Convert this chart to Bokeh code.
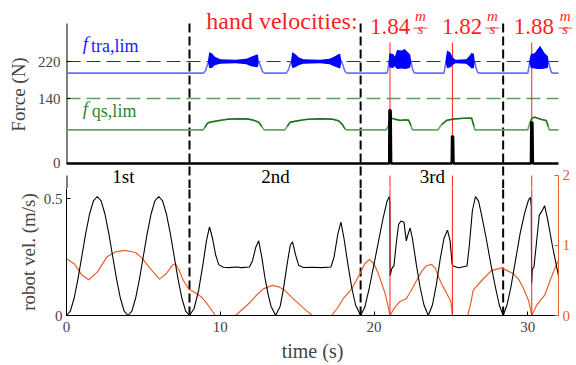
from bokeh.plotting import figure
from bokeh.models import Range1d, LinearAxis, FixedTicker, Label
from bokeh.core.properties import value
from bokeh.embed import file_html
from bokeh.resources import INLINE

FONT = "Liberation Serif"

# ---------------- data ----------------
# robot velocity (m/s): (time s, value)
robot_vel = [
    (0.0, 0.0), (0.25, 0.019), (0.5, 0.075), (0.75, 0.158), (1.0, 0.255), (1.25, 0.352), (1.5, 0.435),
    (1.75, 0.491), (2.0, 0.51), (2.25, 0.491), (2.5, 0.435), (2.75, 0.352), (3.0, 0.255), (3.25, 0.158),
    (3.5, 0.075), (3.75, 0.019), (4.0, 0.0), (4.25, 0.019), (4.5, 0.075), (4.75, 0.158), (5.0, 0.255),
    (5.25, 0.352), (5.5, 0.435), (5.75, 0.491), (6.0, 0.51), (6.25, 0.491), (6.5, 0.435), (6.75, 0.352),
    (7.0, 0.255), (7.25, 0.158), (7.5, 0.075), (7.75, 0.019), (8.0, 0.0),
    (8.3, 0.03), (8.6, 0.11), (8.9, 0.23), (9.1, 0.32), (9.3, 0.38), (9.5, 0.33), (9.7, 0.26), (9.9, 0.218),
    (10.2, 0.207), (10.6, 0.205), (11.0, 0.208), (11.4, 0.205), (11.9, 0.208), (12.1, 0.235), (12.3, 0.29),
    (12.5, 0.32), (12.7, 0.25), (12.9, 0.165), (13.1, 0.095), (13.3, 0.04), (13.6, 0.0),
    (13.9, 0.04), (14.1, 0.11), (14.35, 0.22), (14.55, 0.30), (14.7, 0.316), (14.9, 0.26), (15.1, 0.215),
    (15.4, 0.206), (16.0, 0.207), (16.6, 0.205), (17.2, 0.208), (17.4, 0.25), (17.65, 0.35), (17.85, 0.40),
    (18.05, 0.33), (18.3, 0.22), (18.55, 0.12), (18.8, 0.045), (19.13, 0.0),
    (19.4, 0.035), (19.7, 0.12), (20.0, 0.22), (20.3, 0.32), (20.6, 0.42), (20.85, 0.49), (21.0, 0.51),
    (21.03, 0.48), (21.05, 0.17), (21.15, 0.20), (21.3, 0.215), (21.45, 0.31), (21.6, 0.39), (21.75, 0.405),
    (21.95, 0.40), (22.1, 0.32), (22.2, 0.345), (22.35, 0.375), (22.5, 0.33), (22.75, 0.22), (23.0, 0.12),
    (23.25, 0.045), (23.53, 0.0),
    (23.8, 0.045), (24.05, 0.13), (24.3, 0.24), (24.55, 0.33), (24.78, 0.366), (24.95, 0.32), (25.08, 0.22),
    (25.15, 0.212), (25.5, 0.205), (26.05, 0.212), (26.2, 0.30), (26.4, 0.45), (26.6, 0.51), (26.8, 0.49),
    (27.0, 0.43), (27.3, 0.33), (27.6, 0.22), (27.9, 0.12), (28.15, 0.045), (28.4, 0.0),
    (28.65, 0.045), (28.9, 0.12), (29.2, 0.235), (29.5, 0.35), (29.8, 0.44), (30.05, 0.495), (30.17, 0.506),
    (30.23, 0.47), (30.25, 0.137), (30.3, 0.20), (30.4, 0.206), (30.55, 0.30), (30.75, 0.43), (30.9, 0.445),
    (31.1, 0.47), (31.3, 0.41), (31.6, 0.30), (32.0, 0.17),
]

# second (orange) quantity on the right axis: (time s, value)
right_val = [
    (0.0, 0.81), (0.5, 0.74), (1.0, 0.58), (1.45, 0.51), (2.0, 0.62), (2.64, 0.84), (3.2, 0.91), (3.8, 0.93),
    (4.5, 0.90), (4.91, 0.82), (5.45, 0.67), (6.05, 0.52), (6.5, 0.60), (6.85, 0.71), (7.08, 0.74), (7.3, 0.66),
    (7.6, 0.50), (7.94, 0.38), (8.4, 0.32), (8.8, 0.26), (9.2, 0.15), (9.68, 0.0), (11.0, 0.0), (11.5, 0.10),
    (11.95, 0.19), (12.4, 0.30), (12.8, 0.38), (13.4, 0.43), (13.8, 0.41), (14.2, 0.36), (14.6, 0.27),
    (15.1, 0.17), (15.6, 0.07), (16.0, 0.0), (17.25, 0.0), (17.6, 0.10), (18.0, 0.24), (18.55, 0.38),
    (19.1, 0.60), (19.4, 0.74), (19.7, 0.80), (20.0, 0.74), (20.28, 0.60), (20.7, 0.33), (20.9, 0.15),
    (21.04, 0.0), (21.36, 0.12), (21.7, 0.20), (22.1, 0.24), (22.4, 0.35), (22.77, 0.50), (23.1, 0.63),
    (23.4, 0.71), (23.75, 0.73), (24.0, 0.67), (24.2, 0.55), (24.45, 0.43), (24.7, 0.33), (25.0, 0.20),
    (25.1, 0.0), (26.1, 0.0), (26.3, 0.18), (26.45, 0.36), (27.0, 0.50), (27.64, 0.64), (28.3, 0.68),
    (29.05, 0.60), (29.4, 0.52), (29.7, 0.40), (30.06, 0.21), (30.26, 0.0), (30.56, 0.14), (31.1, 0.29),
    (31.54, 0.55), (31.93, 0.76), (32.0, 0.78),
]

# transient force limit signal (N)
f_tra = [
    (0.0, 195), (8.9, 195), (9.05, 200), (9.18, 215), (9.25, 220), (12.5, 220), (12.62, 210), (12.75, 198),
    (12.9, 195), (14.3, 195), (14.45, 203), (14.58, 218), (14.63, 220), (17.9, 220), (18.0, 210),
    (18.12, 198), (18.25, 195), (20.85, 195), (20.93, 208), (20.98, 220), (22.4, 220), (22.5, 205),
    (22.6, 196), (22.7, 195), (24.55, 195), (24.62, 208), (24.68, 220), (26.55, 220), (26.65, 205),
    (26.75, 196), (26.85, 195), (30.0, 195), (30.08, 208), (30.13, 220), (31.35, 220), (31.45, 205),
    (31.55, 196), (31.65, 195), (32.0, 195),
]
# oscillation envelopes of the transient signal: (time, low, high)
tra_bursts = [
    [(9.2, 219, 221), (9.28, 206, 240), (9.45, 206, 238), (9.65, 212, 230), (10.0, 215, 225), (11.0, 216, 224),
     (11.7, 214, 226), (12.0, 210, 230), (12.3, 208, 234), (12.45, 208, 235), (12.5, 219, 221)],
    [(14.6, 219, 221), (14.68, 206, 240), (14.85, 207, 237), (15.1, 212, 229), (15.4, 215, 225), (16.5, 216, 224),
     (17.1, 214, 226), (17.4, 210, 230), (17.7, 206, 236), (17.8, 205, 237), (17.88, 219, 221)],
    [(20.95, 218, 222), (21.0, 207, 238), (21.25, 206, 236), (21.35, 210, 230), (21.5, 204, 245), (21.8, 205, 244),
     (22.0, 204, 247), (22.2, 205, 240), (22.35, 207, 235), (22.42, 219, 221)],
    [(24.65, 218, 222), (24.75, 206, 244), (24.95, 207, 240), (25.15, 213, 228), (25.3, 216, 224), (26.0, 215, 225),
     (26.2, 210, 232), (26.35, 205, 239), (26.5, 206, 236), (26.55, 219, 221)],
    [(30.1, 218, 222), (30.2, 206, 236), (30.45, 205, 238), (30.6, 204, 245), (30.8, 204, 254), (30.95, 204, 246),
     (31.1, 205, 238), (31.3, 206, 232), (31.35, 219, 221)],
]

# quasi-static force signal (N)
f_qs = [
    (0.0, 72.5), (8.9, 72.5), (9.0, 78), (9.15, 86), (9.3, 89), (9.8, 92), (10.5, 95.5), (11.3, 96.5),
    (11.8, 96), (12.2, 93), (12.5, 89), (12.7, 80), (12.85, 73), (12.95, 72.5), (14.2, 72.5), (14.35, 80),
    (14.55, 89), (15.0, 92), (15.6, 95), (16.5, 96.5), (17.3, 95.5), (17.7, 92), (17.95, 84), (18.1, 75),
    (18.2, 72.5), (20.8, 72.5), (20.95, 82), (21.04, 98.5), (21.3, 96), (21.7, 93), (22.0, 94), (22.25, 93.5),
    (22.4, 82), (22.5, 73), (22.55, 72.5), (24.15, 72.5), (24.4, 84), (24.72, 93), (25.16, 96), (25.8, 97.5),
    (26.35, 98), (26.5, 80), (26.56, 72.5), (30.0, 72.5), (30.13, 87), (30.28, 98), (30.45, 100), (30.89, 95),
    (31.21, 92.5), (31.33, 80), (31.4, 72.5), (32.0, 72.5),
]

# measured contact force (N)
contact_force = [
    (0.0, 0), (20.99, 0), (21.01, 116), (21.08, 114), (21.11, 0), (25.06, 0), (25.08, 60), (25.14, 57),
    (25.17, 0), (30.21, 0), (30.23, 89), (30.3, 88), (30.33, 0), (32.0, 0),
]

limit_tra = 220
limit_qs = 140
phase_bounds = [8.0, 19.13, 28.4]
contact_times = [21.04, 25.1, 30.26]
hand_velocities = ["1.84", "1.82", "1.88"]
phase_names = ["1st", "2nd", "3rd"]
force_ticks = [0, 140, 220]
vel_ticks = [0, 0.5]
right_ticks = [0, 1]
right_top_tick = 2
time_ticks = [0, 10, 20, 30]

# ---------------- styling helpers ----------------
def style_axis(ax, size="15px"):
    ax.major_label_text_font = FONT
    ax.major_label_text_font_size = size
    ax.major_tick_in = 4
    ax.major_tick_out = 0
    ax.minor_tick_line_color = None
    ax.axis_label_text_font = FONT
    ax.axis_label_text_font_style = "normal"
    ax.axis_label_text_font_size = "19px"


def unzip(pts):
    return [p[0] for p in pts], [p[1] for p in pts]


RED = "#ff1f1f"
ORANGE = "#e8602a"
T_END = 32
T_VIEW = 33.17        # top canvas reaches the right edge (room for the last unit)
FORCE_TOP = 302       # where the force axis spine ends
FORCE_VIEW = 351.6    # visible force range above (room for the annotations)
# the top canvas also covers the gap and the head of the lower panel (force units)
GAP_LOW = -53.93      # bottom edge of the top canvas
VEL_PANEL_TOP = -25.88  # top edge of the lower panel, in force units
PHASE_TEXT_Y = -28.9  # anchor of the phase names
VEL_VIEW = 0.5443     # part of the lower panel drawn by the lower canvas
R_VIEW = 1.814

# ---------------- top canvas: forces ----------------
p1 = figure(width=576, height=188, x_range=Range1d(0, T_VIEW), y_range=Range1d(GAP_LOW, FORCE_VIEW),
            output_backend="svg", toolbar_location=None,
            min_border_left=66, min_border_right=0, min_border_top=0, min_border_bottom=0)
p1.outline_line_color = None
p1.xgrid.visible = False
p1.ygrid.visible = False
p1.xaxis.visible = False
style_axis(p1.yaxis[0])
p1.yaxis.ticker = FixedTicker(ticks=force_ticks)
p1.yaxis.axis_label = "Force (N)"
p1.yaxis.major_label_standoff = 6
p1.yaxis.axis_label_standoff = 6
p1.yaxis.axis_line_color = None
# left spines: force panel, and the head of the velocity panel
p1.segment(x0=[0, 0], y0=[0, VEL_PANEL_TOP], x1=[0, 0], y1=[FORCE_TOP, GAP_LOW], color="black", line_width=2)
# right (orange) spine head with its top tick and label
p1.segment(x0=[T_END], y0=[VEL_PANEL_TOP], x1=[T_END], y1=[GAP_LOW], color=ORANGE, line_width=1)
p1.segment(x0=[T_END - 0.27], y0=[VEL_PANEL_TOP], x1=[T_END], y1=[VEL_PANEL_TOP], color=ORANGE, line_width=1)
p1.add_layout(Label(x=T_END, y=VEL_PANEL_TOP, x_offset=4, text=str(right_top_tick), text_font=FONT,
                    text_font_size="15px", text_color=ORANGE, text_baseline="middle"))

# limit lines
p1.line([0, T_END], [limit_tra, limit_tra], color="#2020ff", line_width=1.2, line_dash="14 6")
p1.line([0, T_END], [limit_qs, limit_qs], color="#5c9e5c", line_width=1.5, line_dash="14 6")

# phase boundaries (run on through the gap)
p1.segment(x0=phase_bounds, y0=[GAP_LOW] * 3, x1=phase_bounds, y1=[308] * 3,
           color="black", line_width=2, line_dash="9 4")

# contact markers
p1.segment(x0=contact_times, y0=[0] * 3, x1=contact_times, y1=[261] * 3, color=RED, line_width=1)
p1.segment(x0=contact_times, y0=[GAP_LOW] * 3, x1=contact_times, y1=[VEL_PANEL_TOP] * 3, color=RED, line_width=1)

# transient signal
tx, ty = unzip(f_tra)
p1.line(tx, ty, color="#7070f5", line_width=1.6)
for b in tra_bursts:
    p1.varea(x=[q[0] for q in b], y1=[q[1] for q in b], y2=[q[2] for q in b], color="#0000ff")

# quasi static signal
qx, qy = unzip(f_qs)
p1.line(qx, qy, color="#63a663", line_width=1.6)
qy_raised = [v if v > 74 else float("nan") for v in qy]
p1.line(qx, qy_raised, color="#1a701a", line_width=1.3)

# contact force (also acts as the bottom spine of the force panel)
cx, cy = unzip(contact_force)
p1.line(cx, cy, color="black", line_width=2.6)

# labels
p1.add_layout(Label(x=1.05, y=237, text="f", text_font=FONT, text_font_style="italic",
                    text_font_size="19px", text_color="#1a1aff"))
p1.add_layout(Label(x=1.6, y=232, text="tra,lim", text_font=FONT,
                    text_font_size="18px", text_color="#1a1aff"))
p1.add_layout(Label(x=1.05, y=97, text="f", text_font=FONT, text_font_style="italic",
                    text_font_size="19px", text_color="#2e862e"))
p1.add_layout(Label(x=1.65, y=92, text="qs,lim", text_font=FONT,
                    text_font_size="18px", text_color="#2e862e"))

p1.add_layout(Label(x=9.09, y=279, text="hand velocities:", text_font=FONT,
                    text_font_size="24px", text_color=RED))
num_x = [19.74, 24.42, 29.09]
frac_x = [23.02, 27.7, 32.43]
for hv, nx, fx in zip(hand_velocities, num_x, frac_x):
    p1.add_layout(Label(x=nx, y=279, text=hv, text_font=FONT, text_font_size="23px", text_color=RED))
    p1.add_layout(Label(x=fx, y=300, text="m", text_font=FONT, text_font_style="italic",
                        text_font_size="15px", text_color=RED, text_align="center"))
    p1.add_layout(Label(x=fx, y=272, text="s", text_font=FONT, text_font_style="italic",
                        text_font_size="15px", text_color=RED, text_align="center"))
p1.segment(x0=[f - 0.45 for f in frac_x], y0=[292] * 3, x1=[f + 0.45 for f in frac_x], y1=[292] * 3,
           color=RED, line_width=0.8)

# phase names (top of the velocity panel)
p1.text(x=[3.7, 13.6, 23.8], y=[PHASE_TEXT_Y] * 3, text=phase_names, text_font=value(FONT),
        text_font_size="19px", text_align="center", text_baseline="alphabetic", text_color="black")

# ---------------- lower canvas: velocities ----------------
p2 = figure(width=576, height=177, x_range=Range1d(0, T_END), y_range=Range1d(0, VEL_VIEW),
            output_backend="svg", toolbar_location=None,
            min_border_left=66, min_border_right=18, min_border_top=0, min_border_bottom=50)
p2.outline_line_color = None
p2.xgrid.visible = False
p2.ygrid.visible = False
style_axis(p2.xaxis[0])
style_axis(p2.yaxis[0])
p2.xaxis.ticker = FixedTicker(ticks=time_ticks)
p2.xaxis.axis_label = "time (s)"
p2.xaxis.axis_label_text_font_size = "20px"
p2.xaxis.major_label_standoff = 6
p2.xaxis.axis_label_standoff = 5
p2.yaxis.ticker = FixedTicker(ticks=vel_ticks)
p2.yaxis.axis_label = "robot vel. (m/s)"
p2.yaxis.major_label_standoff = 4
p2.yaxis.axis_label_standoff = 2

p2.extra_y_ranges = {"r": Range1d(0, R_VIEW)}
rax = LinearAxis(y_range_name="r", ticker=FixedTicker(ticks=right_ticks))
style_axis(rax)
rax.axis_line_color = ORANGE
rax.major_tick_line_color = ORANGE
rax.major_label_text_color = ORANGE
rax.major_label_standoff = 4
p2.add_layout(rax, "right")

p2.segment(x0=phase_bounds, y0=[0] * 3, x1=phase_bounds, y1=[VEL_VIEW] * 3,
           color="black", line_width=2, line_dash="9 4")

rx, ry = unzip(right_val)
p2.line(rx, ry, color=ORANGE, line_width=1.2, y_range_name="r")
vx, vy = unzip(robot_vel)
p2.line(vx, vy, color="black", line_width=1.1)
p2.segment(x0=contact_times, y0=[0] * 3, x1=contact_times, y1=[VEL_VIEW] * 3, color=RED, line_width=1)

open("out.html", "w").write(file_html([p1, p2], INLINE))
